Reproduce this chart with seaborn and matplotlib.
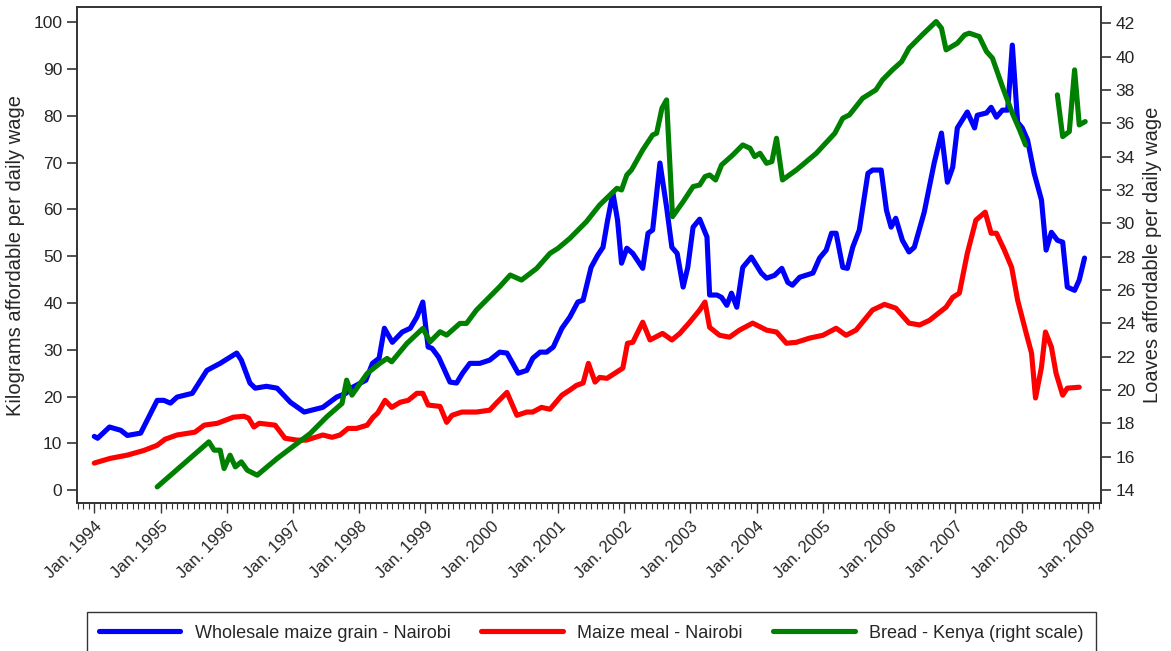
import numpy as np
import pandas as pd
import seaborn as sns
import matplotlib.pyplot as plt
from matplotlib.lines import Line2D
from matplotlib.ticker import MultipleLocator

sns.set_theme(style='ticks')
plt.rcParams['font.family'] = ['Liberation Sans', 'DejaVu Sans']

# wholesale maize grain, Nairobi (kg per daily wage, left scale)
grain_dates = [1994.00, 1994.05, 1994.23, 1994.40, 1994.50, 1994.70, 1994.95, 1995.05, 1995.15, 1995.25,
               1995.48, 1995.70, 1995.90, 1996.15, 1996.22, 1996.35, 1996.43, 1996.60, 1996.76, 1996.96,
               1997.17, 1997.45, 1997.66, 1997.80, 1997.90, 1998.10, 1998.20, 1998.30, 1998.38, 1998.50,
               1998.65, 1998.77, 1998.87, 1998.96, 1999.04, 1999.10, 1999.20, 1999.37, 1999.47, 1999.56,
               1999.67, 1999.82, 1999.97, 2000.12, 2000.23, 2000.40, 2000.53, 2000.62, 2000.73, 2000.83,
               2000.93, 2001.06, 2001.18, 2001.30, 2001.38, 2001.50, 2001.60, 2001.68, 2001.75, 2001.83,
               2001.90, 2001.96, 2002.04, 2002.13, 2002.28, 2002.36, 2002.43, 2002.54, 2002.64, 2002.72,
               2002.80, 2002.89, 2002.96, 2003.04, 2003.14, 2003.25, 2003.29, 2003.40, 2003.47, 2003.55,
               2003.62, 2003.70, 2003.79, 2003.92, 2004.07, 2004.15, 2004.27, 2004.38, 2004.47, 2004.54,
               2004.65, 2004.85, 2004.95, 2005.05, 2005.13, 2005.20, 2005.30, 2005.37, 2005.45, 2005.55,
               2005.68, 2005.75, 2005.88, 2005.96, 2006.03, 2006.10, 2006.20, 2006.30, 2006.38, 2006.53,
               2006.68, 2006.79, 2006.88, 2006.96, 2007.03, 2007.18, 2007.29, 2007.33, 2007.47, 2007.54,
               2007.62, 2007.71, 2007.79, 2007.86, 2007.94, 2008.01, 2008.09, 2008.19, 2008.30, 2008.37,
               2008.45, 2008.54, 2008.62, 2008.69, 2008.80, 2008.87, 2008.95]
grain_vals = [11.5, 11.1, 13.5, 12.8, 11.7, 12.2, 19.2, 19.2, 18.6, 19.9,
              20.7, 25.6, 27.1, 29.3, 27.8, 22.9, 21.8, 22.2, 21.8, 18.8,
              16.7, 17.7, 19.9, 20.7, 22.0, 23.5, 27.1, 28.2, 34.6, 31.6,
              33.8, 34.6, 37.0, 40.2, 30.6, 30.3, 28.4, 23.1, 22.9, 25.0,
              27.1, 27.1, 27.8, 29.5, 29.3, 25.0, 25.6, 28.2, 29.5, 29.5,
              30.6, 34.6, 37.0, 40.2, 40.6, 47.6, 50.2, 51.9, 57.7, 63.5,
              57.7, 48.5, 51.7, 50.6, 47.4, 54.9, 55.6, 69.9, 60.5, 51.9,
              50.6, 43.4, 47.6, 56.2, 57.9, 54.1, 41.7, 41.7, 41.2, 39.5,
              42.1, 39.1, 47.6, 49.8, 46.4, 45.3, 45.9, 47.4, 44.4, 43.8,
              45.5, 46.4, 49.6, 51.3, 54.9, 54.9, 47.6, 47.4, 51.9, 55.6,
              67.7, 68.4, 68.4, 59.8, 56.2, 58.1, 53.4, 50.9, 51.9, 59.4,
              69.9, 76.3, 65.8, 69.0, 77.4, 80.8, 77.4, 80.1, 80.6, 81.8,
              79.7, 81.2, 81.2, 95.1, 78.6, 77.4, 74.8, 67.7, 62.0, 51.3,
              55.1, 53.4, 53.0, 43.4, 42.7, 44.9, 49.6]

# maize meal, Nairobi (kg per daily wage, left scale)
meal_dates = [1994.00, 1994.24, 1994.50, 1994.75, 1994.95, 1995.07, 1995.25, 1995.52, 1995.66, 1995.86,
              1996.10, 1996.26, 1996.33, 1996.41, 1996.49, 1996.73, 1996.88, 1997.06, 1997.20, 1997.45,
              1997.59, 1997.71, 1997.83, 1997.96, 1998.12, 1998.21, 1998.28, 1998.39, 1998.49, 1998.62,
              1998.74, 1998.87, 1998.96, 1999.04, 1999.22, 1999.32, 1999.40, 1999.55, 1999.77, 1999.97,
              2000.07, 2000.23, 2000.38, 2000.53, 2000.62, 2000.75, 2000.88, 2001.06, 2001.18, 2001.28,
              2001.38, 2001.46, 2001.56, 2001.63, 2001.74, 2001.86, 2001.98, 2002.05, 2002.13, 2002.28,
              2002.39, 2002.58, 2002.72, 2002.84, 2002.99, 2003.14, 2003.22, 2003.29, 2003.44, 2003.59,
              2003.74, 2003.94, 2004.15, 2004.30, 2004.45, 2004.60, 2004.80, 2005.00, 2005.20, 2005.35,
              2005.50, 2005.75, 2005.93, 2006.10, 2006.30, 2006.46, 2006.61, 2006.76, 2006.86, 2006.96,
              2007.06, 2007.18, 2007.31, 2007.45, 2007.54, 2007.62, 2007.74, 2007.85, 2007.94, 2008.07,
              2008.15, 2008.21, 2008.30, 2008.36, 2008.45, 2008.52, 2008.62, 2008.69, 2008.87]
meal_vals = [5.8, 6.8, 7.5, 8.5, 9.6, 10.9, 11.8, 12.4, 13.9, 14.3,
             15.6, 15.8, 15.4, 13.5, 14.3, 13.9, 11.1, 10.7, 10.7, 11.8,
             11.3, 11.8, 13.2, 13.2, 13.9, 15.6, 16.5, 19.2, 17.7, 18.8,
             19.2, 20.7, 20.7, 18.2, 17.9, 14.5, 16.0, 16.7, 16.7, 17.1,
             18.6, 20.9, 16.0, 16.7, 16.7, 17.7, 17.3, 20.3, 21.4, 22.4,
             22.9, 27.1, 23.1, 24.1, 23.9, 25.0, 26.1, 31.4, 31.6, 35.9,
             32.1, 33.5, 32.1, 33.5, 35.9, 38.5, 40.2, 34.8, 33.1, 32.7,
             34.2, 35.7, 34.2, 33.8, 31.4, 31.6, 32.5, 33.1, 34.6, 33.1,
             34.2, 38.5, 39.7, 38.9, 35.7, 35.3, 36.3, 38.0, 39.1, 41.2,
             42.1, 50.6, 57.7, 59.4, 54.9, 54.9, 51.3, 47.6, 40.6, 33.5,
             29.3, 19.7, 26.3, 33.8, 30.6, 25.0, 20.3, 21.8, 22.0]

# bread, Kenya (loaves per daily wage, right scale); NaN = missing months
bread_dates = [1994.95, 1995.73, 1995.81, 1995.90, 1995.96, 1996.05, 1996.13, 1996.22, 1996.31, 1996.46,
               1996.76, 1996.96, 1997.26, 1997.51, 1997.74, 1997.81, 1997.89, 1998.12, 1998.31, 1998.42,
               1998.49, 1998.72, 1998.96, 1999.07, 1999.22, 1999.32, 1999.52, 1999.62, 1999.77, 1999.97,
               2000.12, 2000.28, 2000.45, 2000.68, 2000.88, 2001.00, 2001.18, 2001.43, 2001.63, 2001.89,
               2001.96, 2002.04, 2002.11, 2002.28, 2002.43, 2002.49, 2002.57, 2002.64, 2002.73, 2002.89,
               2003.04, 2003.14, 2003.22, 2003.29, 2003.38, 2003.47, 2003.64, 2003.79, 2003.90, 2003.97,
               2004.05, 2004.15, 2004.23, 2004.30, 2004.39, 2004.60, 2004.90, 2005.18, 2005.30, 2005.40,
               2005.60, 2005.80, 2005.90, 2006.05, 2006.19, 2006.30, 2006.50, 2006.71, 2006.79, 2006.86,
               2007.03, 2007.14, 2007.21, 2007.36, 2007.47, 2007.56, 2007.71, 2007.86, 2007.97, 2008.06,
               2008.30, 2008.54, 2008.62, 2008.72, 2008.80, 2008.87, 2008.96]
bread_vals = [14.2, 16.9, 16.4, 16.4, 15.3, 16.1, 15.4, 15.7, 15.2, 14.9,
              15.9, 16.5, 17.4, 18.4, 19.2, 20.6, 19.7, 21.0, 21.6, 21.9,
              21.7, 22.8, 23.7, 22.9, 23.5, 23.3, 24.0, 24.0, 24.8, 25.6,
              26.2, 26.9, 26.6, 27.3, 28.2, 28.5, 29.1, 30.1, 31.1, 32.1,
              32.0, 32.9, 33.2, 34.4, 35.3, 35.4, 36.9, 37.4, 30.4, 31.3,
              32.2, 32.3, 32.8, 32.9, 32.6, 33.5, 34.1, 34.7, 34.5, 34.0,
              34.2, 33.6, 33.7, 35.1, 32.6, 33.2, 34.2, 35.4, 36.3, 36.5,
              37.5, 38.0, 38.6, 39.2, 39.7, 40.5, 41.3, 42.1, 41.7, 40.4,
              40.8, 41.3, 41.4, 41.2, 40.3, 39.9, 38.2, 36.6, 35.6, 34.7,
              np.nan, 37.7, 35.2, 35.5, 39.2, 35.9, 36.1]

series_labels = ['Wholesale maize grain - Nairobi', 'Maize meal - Nairobi', 'Bread - Kenya (right scale)']
series_colors = ['#0000ff', '#ff0000', '#008000']
years = list(range(1994, 2010))
year_labels = [f'Jan. {y}' for y in years]

grain = pd.DataFrame({'date': grain_dates, 'value': grain_vals})
meal = pd.DataFrame({'date': meal_dates, 'value': meal_vals})
bread = pd.DataFrame({'date': bread_dates, 'value': bread_vals})
bread['segment'] = bread['value'].isna().cumsum()
bread = bread.dropna()

fig = plt.figure(figsize=(11.71, 6.51), dpi=100)
ax = fig.add_axes([0.0658, 0.227, 0.8745, 0.762])
ax2 = ax.twinx()

lw = 3.7
sns.lineplot(data=grain, x='date', y='value', ax=ax, color=series_colors[0], lw=lw, sort=False, estimator=None)
sns.lineplot(data=meal, x='date', y='value', ax=ax, color=series_colors[1], lw=lw, sort=False, estimator=None)
sns.lineplot(data=bread, x='date', y='value', units='segment', ax=ax2, color=series_colors[2], lw=lw,
             sort=False, estimator=None)

ax.set_xlim(1993.74, 2009.2)
ax.set_ylim(-2.78, 103.2)
ax2.set_ylim(13.22, 42.96)

ax.set_xticks(years)
ax.set_xticklabels(year_labels, rotation=45, ha='right', rotation_mode='anchor', fontsize=12)
ax.xaxis.set_minor_locator(MultipleLocator(1 / 12))
ax.set_yticks(range(0, 101, 10))
ax2.set_yticks(range(14, 43, 2))
ax.tick_params(axis='y', labelsize=12.5, length=7, width=1.2, color='#333333')
ax2.tick_params(axis='y', labelsize=12.5, length=7, width=1.2, color='#333333')
ax.tick_params(axis='x', which='major', length=7, width=1.0, color='#333333', pad=4)
ax.tick_params(axis='x', which='minor', length=4, width=0.8, color='#333333')

ax.set_xlabel('')
ax.set_ylabel('Kilograms affordable per daily wage', fontsize=14.5, labelpad=6)
ax2.set_ylabel('Loaves affordable per daily wage', fontsize=14.5, labelpad=6)

for a in (ax, ax2):
    for s in a.spines.values():
        s.set_linewidth(1.2)
        s.set_color('#333333')

handles = [Line2D([], [], color=c, lw=lw) for c in series_colors]
fig.legend(handles, series_labels, loc='upper center', bbox_to_anchor=(0.505, 0.06), ncol=3,
           fontsize=13, handlelength=4.5, handletextpad=0.8, columnspacing=1.7, borderaxespad=0,
           frameon=True, fancybox=False, edgecolor='#333333', framealpha=1, borderpad=0.7)

fig.savefig('out.png', dpi=100)
